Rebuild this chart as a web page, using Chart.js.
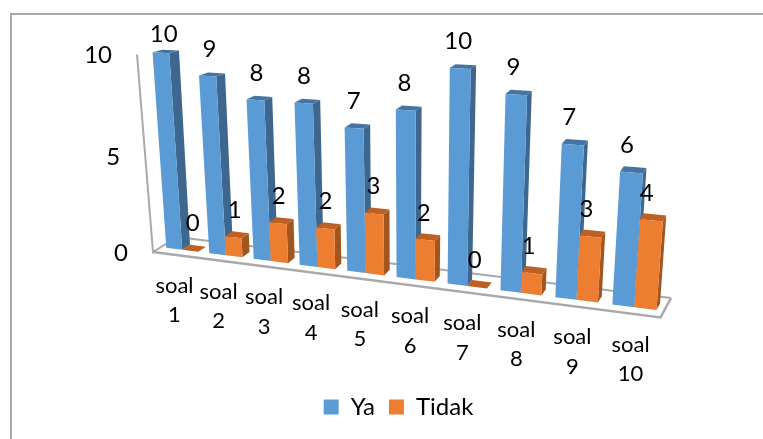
<!DOCTYPE html>
<html>
<head>
<meta charset="utf-8">
<title>Ya / Tidak</title>
<script src="https://cdn.jsdelivr.net/npm/chart.js@4"></script>
<style>
  html, body { margin: 0; padding: 0; background: #fff; }
  canvas { display: block; }
</style>
</head>
<body>
<canvas id="chart" width="763" height="439"></canvas>
<script>
const categories = ['soal 1', 'soal 2', 'soal 3', 'soal 4', 'soal 5', 'soal 6', 'soal 7', 'soal 8', 'soal 9', 'soal 10'];
const ya = [10, 9, 8, 8, 7, 8, 10, 9, 7, 6];
const tidak = [0, 1, 2, 2, 3, 2, 0, 1, 3, 4];

const FONT = 'Lato, "Open Sans", sans-serif';
const AXIS_GREY = '#a9a9a9';

// faces of each series: front comes from the dataset, side and top are shaded
const shades = {
  Ya: { side: '#3d678f', top: '#44749f' },
  Tidak: { side: '#a2551d', top: '#bd6024' }
};

// corners of the bar plane on screen, for depth 0 and depth 1
// order: bottom-left, bottom-right, top-right, top-left
const frontQuad = [[161, 247], [664, 311], [681, 80], [147, 52]];
const backQuad = [[169, 242], [667.5, 304.5], [684, 75.5], [157, 49.5]];

// homography taking the unit square onto a quad
function squareToQuad(q) {
  const [[x0, y0], [x1, y1], [x2, y2], [x3, y3]] = q;
  const dx1 = x1 - x2, dx2 = x3 - x2, sx = x0 - x1 + x2 - x3;
  const dy1 = y1 - y2, dy2 = y3 - y2, sy = y0 - y1 + y2 - y3;
  const den = dx1 * dy2 - dx2 * dy1;
  const g = (sx * dy2 - dx2 * sy) / den;
  const h = (dx1 * sy - sx * dy1) / den;
  const a = x1 - x0 + g * x1, b = x3 - x0 + h * x3;
  const d = y1 - y0 + g * y1, e = y3 - y0 + h * y3;
  return (u, v) => {
    const w = g * u + h * v + 1;
    return [(a * u + b * v + x0) / w, (d * u + e * v + y0) / w];
  };
}
const frontMap = squareToQuad(frontQuad);
const backMap = squareToQuad(backQuad);

// u along the categories, v up the value axis, t into the depth
function project(u, v, t) {
  const f = frontMap(u, v), b = backMap(u, v);
  return [f[0] + (b[0] - f[0]) * t, f[1] + (b[1] - f[1]) * t];
}

function polygon(ctx, pts, fill) {
  ctx.beginPath();
  pts.forEach((p, i) => (i ? ctx.lineTo(p[0], p[1]) : ctx.moveTo(p[0], p[1])));
  ctx.closePath();
  ctx.fillStyle = fill;
  ctx.fill();
}

function polyline(ctx, pts, width) {
  ctx.beginPath();
  pts.forEach((p, i) => (i ? ctx.lineTo(p[0], p[1]) : ctx.moveTo(p[0], p[1])));
  ctx.strokeStyle = AXIS_GREY;
  ctx.lineWidth = width;
  ctx.stroke();
}

const perspectiveBars = {
  id: 'perspectiveBars',

  beforeDraw(chart) {
    // frame along the top and left edges
    const ctx = chart.ctx;
    polyline(ctx, [[11, chart.height], [11, 14], [chart.width, 14]], 2);
  },

  // the bars are repainted here in perspective, so the flat ones are skipped
  beforeDatasetsDraw(chart) {
    const ctx = chart.ctx;
    const area = chart.chartArea;
    const toU = px => (px - area.left) / area.width;
    const toV = py => (area.bottom - py) / area.height;

    // floor and left edge of the box
    polyline(ctx, [project(0, 0, -1), project(1, 0, -1), project(1, 0, 2)], 2.5);
    polyline(ctx, [project(1, 0, 2), project(0, 0, 2)], 2);
    polyline(ctx, [project(0, 0, 2), project(0, 0, -1), project(0, 1, -1)], 2);

    const metas = chart.data.datasets.map((ds, i) => chart.getDatasetMeta(i));
    categories.forEach((cat, c) => {
      metas.forEach((meta, s) => {
        const ds = chart.data.datasets[s];
        const bar = meta.data[c];
        const half = bar.width / 2;
        const u0 = toU(bar.x - half), u1 = toU(bar.x + half);
        const v0 = toV(bar.base), v1 = toV(bar.y);
        const shade = shades[ds.label];

        polygon(ctx, [project(u1, v0, 0), project(u1, v0, 1), project(u1, v1, 1), project(u1, v1, 0)], shade.side);
        polygon(ctx, [project(u0, v1, 0), project(u1, v1, 0), project(u1, v1, 1), project(u0, v1, 1)], shade.top);
        polygon(ctx, [project(u0, v0, 0), project(u1, v0, 0), project(u1, v1, 0), project(u0, v1, 0)], ds.backgroundColor);
      });
    });
    return false;
  },

  // returning false above also skips afterDatasetsDraw, so the text goes here
  afterDraw(chart) {
    const ctx = chart.ctx;
    const area = chart.chartArea;
    const xScale = chart.scales.x;
    const yScale = chart.scales.y;
    const toU = px => (px - area.left) / area.width;
    const toV = py => (area.bottom - py) / area.height;

    ctx.save();
    ctx.fillStyle = '#000';
    ctx.textBaseline = 'middle';

    // value axis
    ctx.font = '24px ' + FONT;
    ctx.textAlign = 'right';
    yScale.ticks.forEach(tick => {
      const p = project(0, toV(yScale.getPixelForValue(tick.value)), -1);
      ctx.fillText(tick.label, p[0] - 25, p[1] + 1);
    });

    // category axis, two lines under the front edge of the floor
    ctx.font = '22px ' + FONT;
    ctx.textAlign = 'center';
    xScale.ticks.forEach((tick, i) => {
      const p = project(toU(xScale.getPixelForTick(i)), 0, -1);
      xScale.getLabelForValue(tick.value).split(' ').forEach((line, l) => {
        ctx.fillText(line, p[0], p[1] + 31 + l * 29.5);
      });
    });

    // values above the bars
    ctx.font = '24px ' + FONT;
    chart.data.datasets.forEach((ds, s) => {
      chart.getDatasetMeta(s).data.forEach((bar, c) => {
        const u = toU(bar.x);
        const p = project(u, toV(bar.y), 0);
        const x = p[0] + 3 - 8 * u;
        const y = Math.max(p[1] - 27, 34);
        ctx.fillText(String(ds.data[c]), x, y);
      });
    });
    ctx.restore();
  }
};

new Chart(document.getElementById('chart'), {
  type: 'bar',
  data: {
    labels: categories,
    datasets: [
      { label: 'Ya', data: ya, backgroundColor: '#5b9bd5' },
      { label: 'Tidak', data: tidak, backgroundColor: '#ed7d31' }
    ]
  },
  options: {
    responsive: false,
    animation: false,
    layout: { padding: { left: 34, right: 0, top: 20, bottom: 10 } },
    datasets: { bar: { categoryPercentage: 0.75, barPercentage: 1 } },
    scales: {
      x: {
        grid: { display: false },
        border: { display: false },
        ticks: { display: false }
      },
      y: {
        min: 0,
        max: 10,
        grid: { display: false },
        border: { display: false },
        ticks: { display: false, stepSize: 5 }
      }
    },
    plugins: {
      tooltip: { enabled: false },
      legend: {
        position: 'bottom',
        labels: {
          boxWidth: 15,
          boxHeight: 15,
          padding: 14,
          color: '#000',
          font: { family: FONT, size: 24 }
        }
      }
    }
  },
  plugins: [perspectiveBars]
});
</script>
</body>
</html>
